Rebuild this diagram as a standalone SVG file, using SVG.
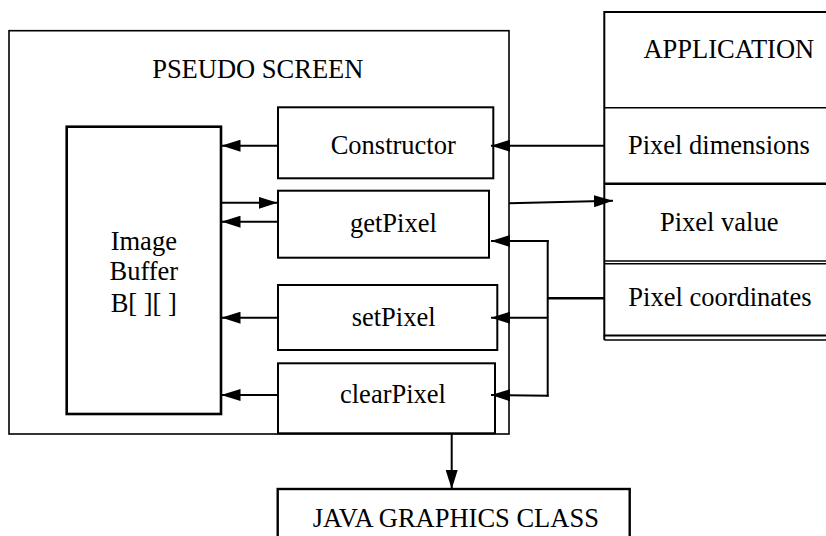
<svg xmlns="http://www.w3.org/2000/svg" width="826" height="536" viewBox="0 0 826 536">
<defs>
<marker id="ah" viewBox="0 0 19 12" refX="19" refY="6" markerWidth="19" markerHeight="12" markerUnits="userSpaceOnUse" orient="auto">
<path d="M0,0 L19,6 L0,12 Z" fill="#000"/>
</marker>
<style>
text{font-family:"Liberation Serif","Times New Roman",serif;font-size:26.5px;fill:#000}
.box{fill:#fff;stroke:#000;stroke-width:2}
.thin{fill:none;stroke:#000;stroke-width:1.6}
.con{fill:none;stroke:#000;stroke-width:2;marker-end:url(#ah)}
.line{fill:none;stroke:#000;stroke-width:2}
.mid{text-anchor:middle}
</style>
</defs>
<rect width="826" height="536" fill="#fff"/>
<g id="pseudo-screen">
<rect x="9" y="30.7" width="500" height="403.3" class="thin"/>
<text x="257.8" y="78.3" class="mid">PSEUDO SCREEN</text>
</g>
<g id="image-buffer">
<rect x="66.7" y="126.7" width="154.3" height="287.3" class="box" style="stroke-width:2.6"/>
<text x="143.8" y="250" class="mid">Image</text>
<text x="143.8" y="280" class="mid">Buffer</text>
<text x="143.8" y="311.7" class="mid" xml:space="preserve">B[ ][ ]</text>
</g>
<g id="constructor">
<rect x="278" y="107.3" width="215.3" height="71" class="box"/>
<text x="330.7" y="154">Constructor</text>
</g>
<g id="getpixel">
<rect x="278" y="190.7" width="211" height="67" class="box"/>
<text x="350" y="231.7">getPixel</text>
</g>
<g id="setpixel">
<rect x="278" y="285" width="219.3" height="65" class="box"/>
<text x="351.7" y="325.7">setPixel</text>
</g>
<g id="clearpixel">
<rect x="278" y="363.3" width="217" height="70" class="box"/>
<text x="340" y="402.7">clearPixel</text>
</g>
<g id="application">
<rect x="604.3" y="12" width="240" height="323.5" class="thin" style="stroke-width:2"/>
<line x1="604.3" y1="107.8" x2="826" y2="107.8" class="thin"/>
<line x1="604.3" y1="183.8" x2="826" y2="183.8" class="thin" style="stroke-width:2.4"/>
<line x1="604.3" y1="261" x2="826" y2="261" class="thin"/>
<line x1="604.3" y1="263.8" x2="826" y2="263.8" class="thin"/>
<line x1="604.3" y1="340" x2="826" y2="340" class="thin"/>
<line x1="604.3" y1="335.5" x2="604.3" y2="340" class="thin" style="stroke-width:2"/>
<text x="728.8" y="58.3" class="mid">APPLICATION</text>
<text x="628" y="154">Pixel dimensions</text>
<text x="660" y="231">Pixel value</text>
<text x="628.3" y="306">Pixel coordinates</text>
</g>
<g id="java-graphics-class">
<rect x="277.7" y="489" width="352" height="60" class="box" style="stroke-width:2.4"/>
<text x="312.7" y="526.7">JAVA GRAPHICS CLASS</text>
</g>
<g id="connectors">
<line x1="278" y1="145.7" x2="221.5" y2="145.7" class="con"/>
<line x1="221" y1="202.8" x2="277.5" y2="202.8" class="con"/>
<line x1="278" y1="221.7" x2="221.5" y2="221.7" class="con"/>
<line x1="278" y1="317.7" x2="221.5" y2="317.7" class="con"/>
<line x1="278" y1="395" x2="221.5" y2="395" class="con"/>
<line x1="604.3" y1="145.7" x2="491" y2="145.7" class="con"/>
<line x1="509" y1="203.3" x2="613" y2="200.8" class="con"/>
<polyline points="604.3,298.3 547.7,298.3" class="line" style="stroke-width:2.6"/>
<line x1="547.7" y1="240.2" x2="547.7" y2="396.5" class="line"/>
<line x1="548.7" y1="241" x2="491" y2="241" class="con"/>
<line x1="547.7" y1="317.7" x2="491" y2="317.7" class="con"/>
<line x1="548.7" y1="395.7" x2="491" y2="395" class="con"/>
<line x1="451.7" y1="433.3" x2="451.7" y2="489" class="con"/>
</g>
</svg>
